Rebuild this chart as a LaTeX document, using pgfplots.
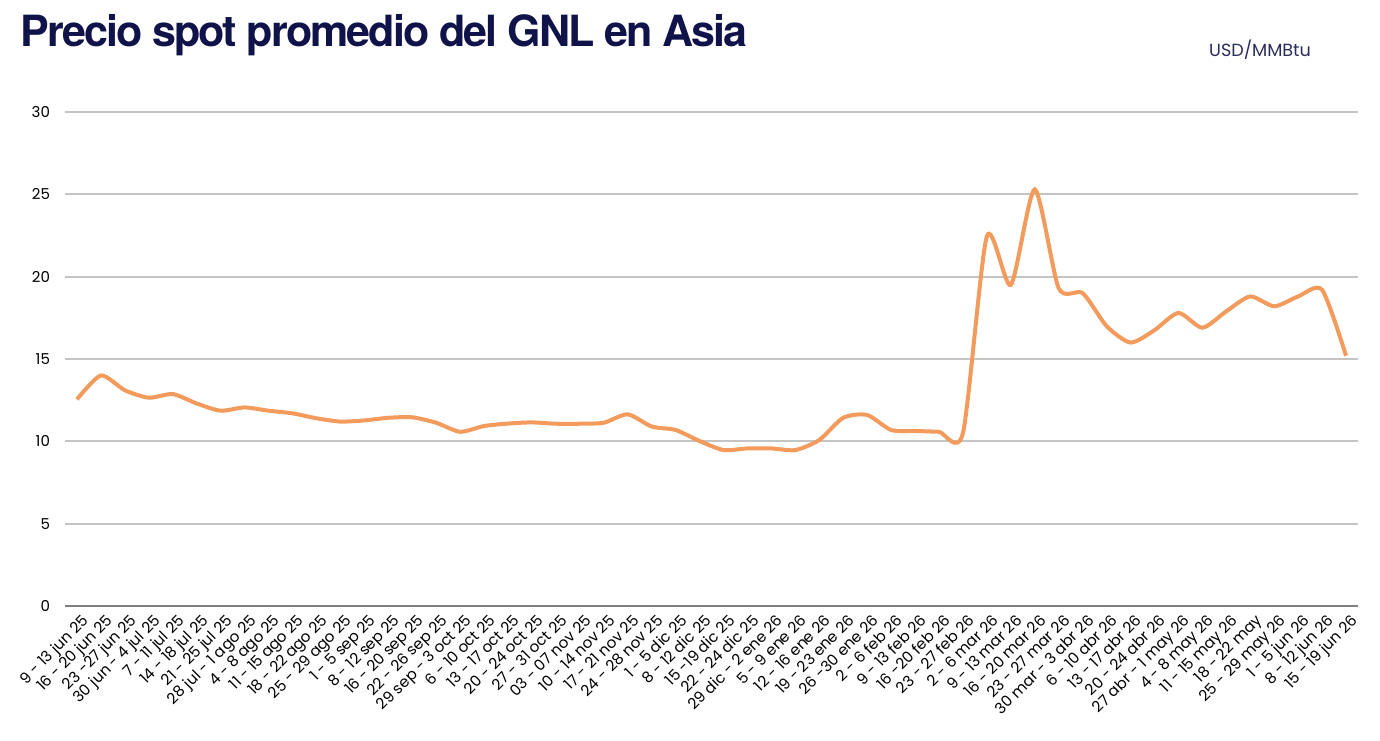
\documentclass[border=0pt]{standalone}
\usepackage{pgfplots}
\pgfplotsset{compat=1.18}
\usepackage{fontspec}
\setmainfont{Poppins}
\newfontfamily\titlefont[LetterSpace=-4.5]{TeX Gyre Heros}
\definecolor{navy}{HTML}{10124A}
\definecolor{unitnavy}{HTML}{2A2C5C}
\definecolor{lineorange}{HTML}{F29B5C}
\definecolor{gridgray}{HTML}{C4C4C4}
\definecolor{axisgray}{HTML}{7F7F7F}

\begin{document}
\begin{tikzpicture}[x=1pt,y=1pt]
\useasboundingbox (0,0) rectangle (690,370);
\node[anchor=north west, inner sep=0pt, text=navy, font=\fontsize{21.5}{24}\titlefont\bfseries]
  at (10,363) {Precio spot promedio del GNL en Asia};
\node[anchor=base, inner sep=0pt, text=unitnavy, font=\fontsize{8.8}{10}\selectfont]
  at (630,341.5) {USD/MMBtu};
\begin{axis}[
  at={(32.5pt,67pt)}, anchor=south west,
  scale only axis, width=646.5pt, height=247pt,
  xmin=-0.5, xmax=53.5, ymin=0, ymax=30,
  ytick={0,5,...,30},
  xtick={0,...,53},
  xticklabels={
    {9 - 13 jun 25},{16 - 20 jun 25},{23 -27 jun 25},{30 jun - 4 jul 25},
    {7 - 11 jul 25},{14 - 18 jul 25},{21 - 25 jul 25},{28 jul - 1 ago 25},
    {4 - 8 ago 25},{11 - 15 ago 25},{18 - 22 ago 25},{25 - 29 ago 25},
    {1 - 5 sep 25},{8 - 12 sep 25},{16 - 20 sep 25},{22 - 26 sep 25},
    {29 sep - 3 oct 25},{6 - 10 oct 25},{13 - 17 oct 25},{20 - 24 oct 25},
    {27 - 31 oct 25},{03 - 07 nov 25},{10 - 14 nov 25},{17 - 21 nov 25},
    {24 - 28 nov 25},{1 - 5 dic 25},{8 - 12 dic 25},{15 -19 dic 25},
    {22 - 24 dic 25},{29 dic - 2 ene 26},{5 - 9 ene 26},{12 - 16 ene 26},
    {19 - 23 ene 26},{26 -30 ene 26},{2 - 6 feb 26},{9 - 13 feb 26},
    {16 -20 feb 26},{23 - 27 feb 26},{2 - 6 mar 26},{9 - 13 mar 26},
    {16 - 20 mar 26},{23 - 27 mar 26},{30 mar - 3 abr 26},{6 - 10 abr 26},
    {13 - 17 abr 26},{20 - 24 abr 26},{27 abr - 1 may 26},{4 - 8 may 26},
    {11 - 15 may 26},{18 - 22 may},{25 - 29 may 26},{1 - 5 jun 26},
    {8 - 12 jun 26},{15 - 19 jun 26}},
  x tick label style={rotate=45, anchor=north east, inner sep=1pt,
    font=\fontsize{7.6}{8}\selectfont, yshift=-3pt},
  y tick label style={font=\fontsize{7.5}{9}\selectfont, xshift=-4pt},
  /pgf/number format/assume math mode=true,
  tick style={draw=none},
  axis line style={draw=none},
  ymajorgrids, grid style={gridgray, line width=1pt},
  clip=false,
]
\draw[axisgray, line width=1.1pt] (axis cs:-0.5,0) -- (axis cs:53.5,0);
\addplot[lineorange, line width=2pt, smooth, tension=0.42] coordinates {
  (0,12.55)(1,14.0)(2,13.1)(3,12.65)(4,12.87)(5,12.3)(6,11.86)(7,12.06)
  (8,11.86)(9,11.7)(10,11.4)(11,11.2)(12,11.27)(13,11.43)(14,11.46)(15,11.13)
  (16,10.58)(17,10.93)(18,11.08)(19,11.15)(20,11.07)(21,11.07)(22,11.13)(23,11.64)
  (24,10.9)(25,10.69)(26,10.02)(27,9.47)(28,9.57)(29,9.57)(30,9.47)(31,10.08)
  (32,11.43)(33,11.6)(34,10.69)(35,10.63)(36,10.58)(37,10.5)(38,22.45)(39,19.5)
  (40,25.3)(41,19.3)(42,19.0)(43,17.0)(44,16.0)(45,16.75)(46,17.8)(47,16.9)
  (48,17.9)(49,18.8)(50,18.2)(51,18.8)(52,19.2)(53,15.2)};
\end{axis}
\end{tikzpicture}
\end{document}
